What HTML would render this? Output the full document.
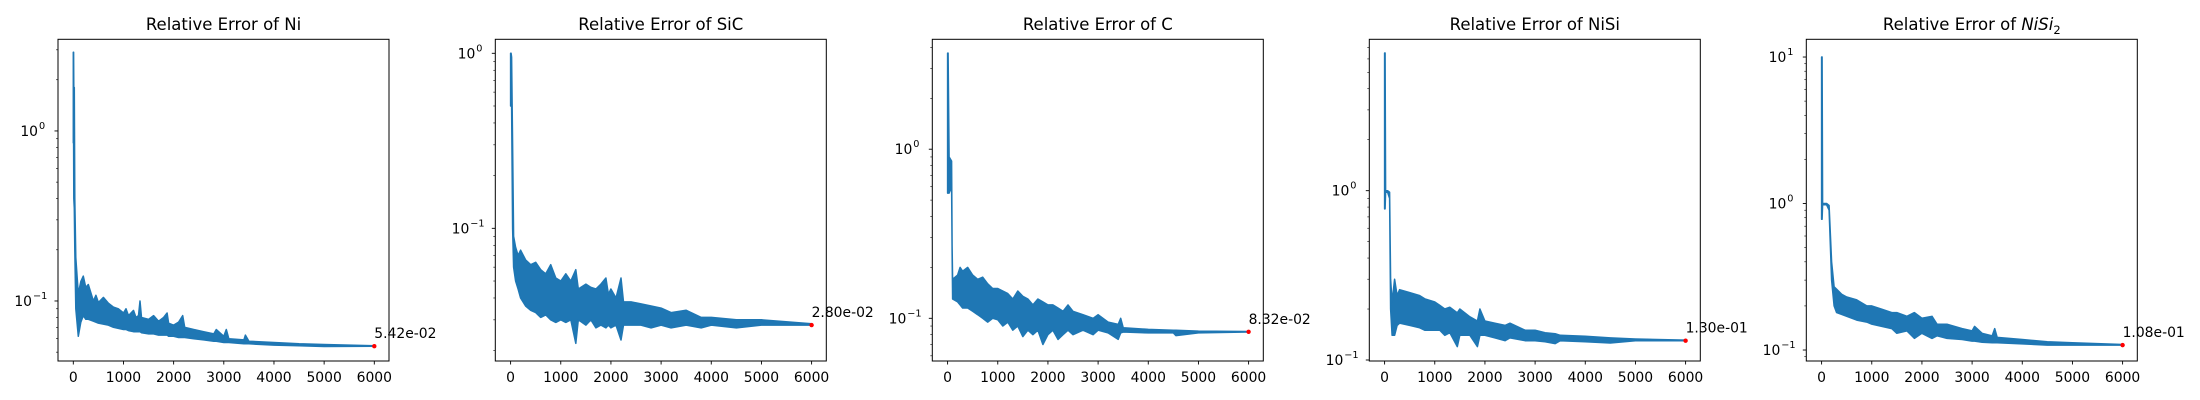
<!DOCTYPE html>
<html><head><meta charset="utf-8">
<style>
html,body{margin:0;padding:0;background:#fff;}
svg{display:block;font-family:"DejaVu Sans","Liberation Sans",sans-serif;}
</style></head>
<body>
<svg id="fig" width="2200" height="400" viewBox="0 0 2200 400" xmlns="http://www.w3.org/2000/svg"></svg>
<script>
// ---- data ----
const titles = ["Relative Error of Ni","Relative Error of SiC","Relative Error of C","Relative Error of NiSi","Relative Error of NiSi2"];
const annotations = ["5.42e-02","2.80e-02","8.32e-02","1.30e-01","1.08e-01"];
const finalValues = [0.0542,0.0280,0.0832,0.130,0.108];
const xTicks = [0,1000,2000,3000,4000,5000,6000];
// panel 1 (Ni)
const steps1 = [0,5,10,20,30,50,100,150,200,250,300,400,450,500,600,700,800,900,1000,1050,1100,1200,1250,1300,1330,1360,1500,1600,1700,1800,1870,1900,2000,2100,2180,2220,2400,2600,2800,2850,3000,3050,3100,3400,3430,3500,4000,4500,5000,6000];
const hi1 = [2.9,2.9,1.8,1.8,0.4,0.18,0.11,0.13,0.14,0.12,0.125,0.10,0.108,0.098,0.105,0.097,0.092,0.09,0.085,0.09,0.082,0.088,0.08,0.082,0.10,0.08,0.078,0.082,0.076,0.08,0.085,0.074,0.072,0.075,0.082,0.07,0.068,0.066,0.064,0.068,0.062,0.068,0.06,0.059,0.063,0.058,0.057,0.056,0.0555,0.0545];
const lo1 = [0.85,0.85,0.4,0.35,0.2,0.09,0.062,0.075,0.082,0.078,0.078,0.076,0.075,0.074,0.073,0.072,0.07,0.069,0.068,0.068,0.067,0.066,0.066,0.066,0.066,0.065,0.064,0.064,0.063,0.063,0.063,0.062,0.062,0.061,0.061,0.061,0.060,0.059,0.058,0.058,0.057,0.057,0.057,0.056,0.056,0.056,0.055,0.0545,0.054,0.0542];
// panel 2 (SiC)
const steps2 = [0,10,20,40,60,100,150,200,300,400,500,600,700,800,900,1000,1100,1200,1300,1350,1500,1600,1700,1800,1900,1950,2000,2100,2200,2250,2400,2600,2800,3000,3200,3500,3800,4000,4500,5000,6000];
const hi2 = [1.0,1.0,0.95,0.3,0.09,0.078,0.07,0.075,0.066,0.062,0.064,0.058,0.055,0.062,0.052,0.05,0.055,0.05,0.058,0.045,0.048,0.046,0.045,0.048,0.052,0.042,0.045,0.04,0.052,0.038,0.038,0.037,0.036,0.035,0.033,0.034,0.031,0.031,0.030,0.030,0.0285];
const lo2 = [0.5,0.5,0.5,0.1,0.06,0.05,0.045,0.04,0.036,0.034,0.033,0.031,0.032,0.030,0.029,0.030,0.029,0.030,0.022,0.030,0.028,0.030,0.027,0.028,0.027,0.028,0.027,0.028,0.023,0.028,0.028,0.028,0.027,0.028,0.027,0.028,0.027,0.028,0.027,0.028,0.028];
// panel 3 (C)
const steps3 = [0,10,30,80,90,100,200,250,300,400,500,600,700,800,900,1000,1100,1200,1300,1400,1500,1600,1700,1800,1900,2000,2100,2200,2300,2400,2500,2700,2900,3000,3200,3400,3450,3500,4000,4500,4550,5000,6000];
const hi3 = [3.7,3.7,0.9,0.85,0.27,0.17,0.18,0.2,0.19,0.2,0.18,0.17,0.175,0.16,0.15,0.15,0.145,0.14,0.13,0.145,0.135,0.13,0.12,0.13,0.125,0.12,0.12,0.115,0.11,0.12,0.11,0.105,0.1,0.105,0.095,0.092,0.1,0.088,0.086,0.085,0.085,0.084,0.0835];
const lo3 = [0.55,0.55,0.55,0.6,0.25,0.13,0.125,0.12,0.115,0.115,0.11,0.105,0.1,0.095,0.1,0.098,0.09,0.095,0.085,0.09,0.078,0.085,0.08,0.085,0.07,0.08,0.085,0.075,0.08,0.085,0.08,0.085,0.08,0.085,0.082,0.075,0.082,0.083,0.082,0.082,0.079,0.082,0.083];
// panel 4 (NiSi)
const steps4 = [0,10,20,60,100,120,150,200,250,300,500,700,800,1000,1100,1200,1300,1450,1500,1700,1850,1900,2000,2200,2400,2500,2800,3000,3200,3400,3500,4000,4500,5000,6000];
const hi4 = [6.5,6.5,1.0,1.0,0.98,0.3,0.22,0.3,0.24,0.26,0.25,0.24,0.23,0.22,0.21,0.2,0.205,0.19,0.2,0.18,0.17,0.2,0.17,0.165,0.16,0.165,0.15,0.15,0.145,0.143,0.14,0.138,0.135,0.133,0.131];
const lo4 = [0.78,0.78,0.98,0.98,0.9,0.2,0.14,0.14,0.16,0.165,0.16,0.155,0.15,0.15,0.15,0.14,0.145,0.12,0.14,0.14,0.12,0.14,0.14,0.135,0.13,0.135,0.13,0.13,0.128,0.125,0.13,0.128,0.126,0.13,0.13];
// panel 5 (NiSi2)
const steps5 = [0,10,20,100,150,200,250,300,400,500,700,900,1000,1200,1400,1500,1700,1850,2000,2200,2300,2500,2800,3000,3050,3200,3400,3450,3500,4000,4500,5000,6000];
const hi5 = [10,10,1.0,1.0,0.97,0.4,0.27,0.26,0.24,0.23,0.22,0.2,0.2,0.19,0.18,0.18,0.17,0.18,0.165,0.17,0.15,0.15,0.14,0.135,0.145,0.13,0.125,0.14,0.122,0.118,0.114,0.112,0.109];
const lo5 = [0.78,0.78,0.98,0.98,0.9,0.3,0.2,0.18,0.175,0.17,0.16,0.155,0.15,0.145,0.14,0.13,0.135,0.12,0.13,0.12,0.125,0.12,0.118,0.115,0.115,0.113,0.112,0.112,0.112,0.11,0.108,0.108,0.108];
const allSteps = [steps1,steps2,steps3,steps4,steps5];
const allHi = [hi1,hi2,hi3,hi4,hi5];
const allLo = [lo1,lo2,lo3,lo4,lo5];
// log10 y-range of each panel
const yLogMin = [-1.353,-1.758,-1.2525,-1.0059,-1.075];
const yLogMax = [0.539,0.08,0.65,0.894,1.121];

// ---- layout ----
const NS = "http://www.w3.org/2000/svg";
const svg = document.getElementById('fig');
const panelLeft = [58,495.3,932.3,1369.3,1806.3];
const W = 331, TOP = 39.3, BOT = 361;
const C = "#1f77b4";
function mk(tag, attrs, parent){ const e=document.createElementNS(NS,tag); for(const k in attrs) e.setAttribute(k,attrs[k]); (parent||svg).appendChild(e); return e; }

for(let p=0;p<5;p++){
  const L = panelLeft[p];
  const g = mk('g',{});
  
  
  const xs = v => L + 15.3 + v/6000*301;
  const ys = v => BOT - (Math.log10(v)-yLogMin[p])/(yLogMax[p]-yLogMin[p])*(BOT-TOP);
  const t = mk('text',{x:L+W/2,y:30,'text-anchor':'middle','font-size':'16.5'},g);
  
  
  if(p===4){
    t.appendChild(document.createTextNode('Relative Error of '));
    const ts=document.createElementNS(NS,'tspan'); ts.setAttribute('font-style','italic'); ts.textContent='NiSi'; t.appendChild(ts);
    const sub=document.createElementNS(NS,'tspan'); sub.setAttribute('font-size','11.5'); sub.setAttribute('dy','4'); sub.textContent='2'; t.appendChild(sub);
  } else t.textContent = titles[p];
  const st=allSteps[p], hi=allHi[p], lo=allLo[p];
  let d='';
  for(let i=0;i<st.length;i++) d += (i?'L':'M')+xs(st[i]).toFixed(1)+','+ys(hi[i]).toFixed(1);
  for(let i=st.length-1;i>=0;i--) d += 'L'+xs(st[i]).toFixed(1)+','+ys(lo[i]).toFixed(1);
  d+='Z';
  const band = mk('path',{d:d,fill:C,stroke:C,'stroke-width':'1.5','stroke-linejoin':'round'},g);
  
  
  const fx = xs(6000), fy = ys(finalValues[p]);
  const dot = mk('circle',{cx:fx,cy:fy,r:2.2,fill:'red'},g);
  
  
  const an = mk('text',{x:fx,y:fy-8,'font-size':'13.9'},g);
  
  
  an.textContent = annotations[p];
  const fr = mk('rect',{x:L,y:TOP,width:W,height:BOT-TOP,fill:'none',stroke:'#000','stroke-width':'1'},g);
  
  
  xTicks.forEach(v=>{
    const x=xs(v);
    mk('line',{x1:x,x2:x,y1:BOT,y2:BOT+3.5,stroke:'#000','stroke-width':'0.9'},g);
    const tl = mk('text',{x:x,y:382,'text-anchor':'middle','font-size':'13.9'},g);
    
    
    tl.textContent = v;
  });
  for(let k=-3;k<=2;k++){
    for(let m=1;m<=9;m++){
      const v=m*Math.pow(10,k), lv=Math.log10(v);
      if(lv<yLogMin[p]-1e-6||lv>yLogMax[p]+1e-6) continue;
      const y=ys(v);
      mk('line',{x1:L-(m===1?3.5:2),x2:L,y1:y,y2:y,stroke:'#000','stroke-width':m===1?'0.9':'0.6'},g);
      if(m===1){
        const yl = mk('text',{x:L-20,y:y+5,'text-anchor':'end','font-size':'13.9'},g);
        
        
        yl.textContent='10';
        const sup = mk('text',{x:L-19,y:y-2,'text-anchor':'start','font-size':'9.7'},g);
        
        
        sup.textContent = k<0 ? '\u2212'+(-k) : String(k);
        if(k<0) { yl.setAttribute('x', L-26); sup.setAttribute('x', L-25); }
      }
    }
  }
}
</script>
</body></html>
